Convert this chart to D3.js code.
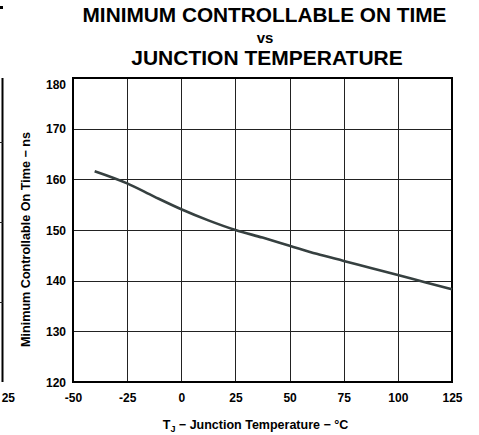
<!DOCTYPE html>
<html><head><meta charset="utf-8">
<script src="https://cdn.jsdelivr.net/npm/d3@7"></script>
<style>body{margin:0;background:#fff}svg{display:block}text{font-family:"Liberation Sans",Arial,sans-serif;font-weight:bold;fill:#000}</style>
</head><body><svg id="c" width="479" height="435"></svg>
<script>
const temps = [-40,-25,-12.5,0,12.5,25,37.5,50,62.5,75,87.5,100,112.5,125];
const onTime = [161.6,159.2,156.6,154.1,151.9,150.0,148.5,146.9,145.3,143.9,142.5,141.1,139.7,138.3];
const xTicks = [-50,-25,0,25,50,75,100,125];
const yTicks = [120,130,140,150,160,170,180];
const neighbourGrid = [142,222,302];

const svg = d3.select("#c");
const L=73,R=452,T=78,B=382;
const x = d3.scaleLinear().domain([-50,125]).range([L,R]);
const y = d3.scaleLinear().domain([120,180]).range([B,T]);

// fragment of neighbouring chart at left edge
svg.append("line").attr("x1",2.5).attr("x2",2.5).attr("y1",T).attr("y2",B).attr("stroke","#000").attr("stroke-width",2);
svg.selectAll(".ng").data(neighbourGrid).join("line").attr("x1",0).attr("x2",3).attr("y1",d=>d+0.5).attr("y2",d=>d+0.5).attr("stroke","#222");
svg.append("text").attr("x",15).attr("y",402).attr("text-anchor","end").attr("font-size",12).text("25");
svg.append("rect").attr("x",0).attr("y",6).attr("width",3).attr("height",3).attr("fill","#000");

// grid
svg.append("g").selectAll("line").data(xTicks).join("line")
  .attr("x1",d=>Math.round(x(d))+0.5).attr("x2",d=>Math.round(x(d))+0.5).attr("y1",T).attr("y2",B)
  .attr("stroke","#222").attr("stroke-width",1);
svg.append("g").selectAll("line").data(yTicks).join("line")
  .attr("y1",d=>Math.round(y(d))+0.5).attr("y2",d=>Math.round(y(d))+0.5).attr("x1",L).attr("x2",R)
  .attr("stroke","#222").attr("stroke-width",1);
svg.append("rect").attr("x",L).attr("y",T).attr("width",R-L).attr("height",B-T)
  .attr("fill","none").attr("stroke","#000").attr("stroke-width",2);

// axes labels
const xAxis = d3.axisBottom(x).tickValues(xTicks).tickSize(0).tickPadding(14).tickFormat(d=>String(d));
const gx = svg.append("g").attr("transform",`translate(0,${B})`).call(xAxis);
gx.select(".domain").remove();
gx.selectAll("text").attr("font-size",12).attr("font-family",null).attr("fill","#000").attr("dy","0.71em").attr("y",11);
const yAxis = d3.axisLeft(y).tickValues(yTicks).tickSize(0).tickPadding(7).tickFormat(d=>String(d));
const gy = svg.append("g").attr("transform",`translate(${L},0)`).call(yAxis);
gy.select(".domain").remove();
gy.selectAll("text").attr("font-size",12).attr("font-family",null).attr("fill","#000")
  .attr("dy",d=>d===180?"0.85em":"0.35em");

// line
const line = d3.line().x((d,i)=>x(temps[i])).y(d=>y(d)).curve(d3.curveMonotoneX);
svg.append("path").datum(onTime).attr("d",line).attr("fill","none").attr("stroke","#364040").attr("stroke-width",2.6).attr("stroke-linecap","butt");

// titles
svg.append("text").attr("x",264.5).attr("y",22).attr("text-anchor","middle").attr("font-size",20.8).text("MINIMUM CONTROLLABLE ON TIME");
svg.append("text").attr("x",265).attr("y",43).attr("text-anchor","middle").attr("font-size",15).text("vs");
svg.append("text").attr("x",267).attr("y",65).attr("text-anchor","middle").attr("font-size",21).text("JUNCTION TEMPERATURE");

const xt = svg.append("text").attr("x",255.5).attr("y",429).attr("text-anchor","middle").attr("font-size",12.5);
xt.append("tspan").text("T");
xt.append("tspan").attr("font-size",9).attr("dy",3).text("J");
xt.append("tspan").attr("dy",-3).text(" \u2212 Junction Temperature \u2212 \u00B0C");

svg.append("text").attr("transform","translate(29.5,239.5) rotate(-90)").attr("text-anchor","middle").attr("font-size",12.6)
  .text("Minimum Controllable On Time \u2212 ns");
</script></body></html>
